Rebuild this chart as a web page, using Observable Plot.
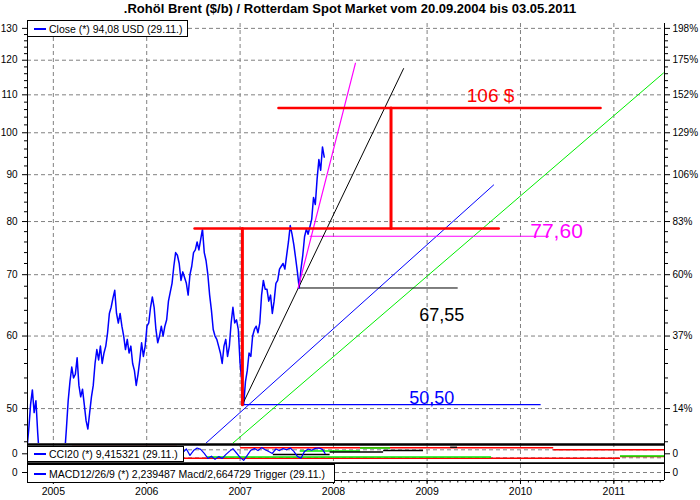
<!DOCTYPE html>
<html><head><meta charset="utf-8">
<script src="https://cdn.jsdelivr.net/npm/d3@7"></script>
<script src="https://cdn.jsdelivr.net/npm/@observablehq/plot@0.6"></script>
<style>
body{margin:0;background:#fff;}
#wrap{position:relative;width:700px;height:500px;overflow:hidden;font-family:"Liberation Sans",Arial,sans-serif;background:#fff;}
#wrap svg{position:absolute;left:0;}
.title{position:absolute;top:0;left:0;width:700px;text-align:center;font-weight:bold;font-size:13px;line-height:17px;z-index:5;}
.leg{position:absolute;left:27px;background:#fff;border:1.6px solid #000;box-sizing:border-box;font-size:10.5px;white-space:nowrap;z-index:5;}
.leg .sw{position:absolute;left:6px;top:50%;margin-top:-1px;width:12px;height:2px;background:#0000ff;}
.leg .t{position:absolute;left:21px;top:50%;transform:translateY(-50%);line-height:12px;color:#000;}
</style></head>
<body>
<div id="wrap">
  <div class="title" id="title"></div>
  <div class="leg" id="legClose" style="top:20px;width:161px;height:17px"><div class="sw"></div><div class="t"></div></div>
  <div class="leg" id="legCCI" style="top:446px;width:157px;height:16px"><div class="sw"></div><div class="t"></div></div>
  <div class="leg" id="legMACD" style="top:464px;width:308px;height:19px"><div class="sw"></div><div class="t"></div></div>
</div>
<script>
// ---------- texts ----------
const titleText = ".Rohöl Brent ($/b) / Rotterdam Spot Market vom 20.09.2004 bis 03.05.2011";
const legendTexts = ["Close (*) 94,08 USD (29.11.)", "CCI20 (*) 9,415321 (29.11.)", "MACD12/26/9 (*) 2,239487 Macd/2,664729 Trigger (29.11.)"];

// ---------- axes ----------
const yearTicks = ["2005-01-01","2006-01-01","2007-01-01","2008-01-01","2009-01-01","2010-01-01","2011-01-01"];
const leftTicks = [50, 60, 70, 80, 90, 100, 110, 120, 130];
const rightLabels = ["14%", "37%", "60%", "83%", "106%", "129%", "152%", "175%", "198%"];
const xStart = "2004-09-22", xEnd = "2011-07-18";
const priceDomain = [45.8, 131.6];
const cciDomain = [-267.5, 257.5];
const cciGridLevels = [-100, 100];
const macdDomain = [-4, 4];

// ---------- close price (USD) ----------
const closeData = [
["2004-09-20",45.2],["2004-09-27",47.5],["2004-10-04",50.5],["2004-10-11",52.4],["2004-10-18",49.5],["2004-10-25",51.0],["2004-11-01",47.0],["2004-11-08",44.0],["2004-11-15",42.5],["2004-11-22",44.5],["2004-11-29",41.0],["2004-12-06",39.0],["2004-12-13",40.5],["2004-12-20",39.5],["2004-12-27",40.0],
["2005-01-03",41.5],["2005-01-10",43.5],["2005-01-17",45.0],["2005-01-24",44.0],["2005-01-31",43.0],["2005-02-07",42.5],["2005-02-14",44.5],["2005-02-21",47.5],["2005-02-28",51.0],["2005-03-07",53.5],["2005-03-14",55.5],["2005-03-21",54.0],["2005-03-28",54.5],["2005-04-04",56.8],["2005-04-11",53.0],["2005-04-18",51.5],["2005-04-25",52.5],["2005-05-02",50.5],["2005-05-09",48.5],["2005-05-16",47.5],["2005-05-23",49.5],["2005-05-30",51.5],["2005-06-06",53.0],["2005-06-13",56.0],["2005-06-20",58.0],["2005-06-27",56.5],["2005-07-04",58.5],["2005-07-11",56.0],["2005-07-18",57.5],["2005-07-25",58.5],["2005-08-01",60.5],["2005-08-08",63.5],["2005-08-15",64.5],["2005-08-22",66.0],["2005-08-29",67.3],["2005-09-05",63.5],["2005-09-12",62.0],["2005-09-19",63.5],["2005-09-26",61.5],["2005-10-03",60.0],["2005-10-10",58.0],["2005-10-17",59.5],["2005-10-24",57.5],["2005-10-31",58.5],["2005-11-07",56.0],["2005-11-14",55.0],["2005-11-21",53.0],["2005-11-28",54.5],["2005-12-05",56.5],["2005-12-12",59.0],["2005-12-19",57.0],["2005-12-26",58.5],
["2006-01-02",61.5],["2006-01-09",62.0],["2006-01-16",64.5],["2006-01-23",66.2],["2006-01-30",64.5],["2006-02-06",61.0],["2006-02-13",59.0],["2006-02-20",60.0],["2006-02-27",61.5],["2006-03-06",60.0],["2006-03-13",61.5],["2006-03-20",62.5],["2006-03-27",65.5],["2006-04-03",67.0],["2006-04-10",68.5],["2006-04-17",71.5],["2006-04-24",74.0],["2006-05-01",73.5],["2006-05-08",72.0],["2006-05-15",69.0],["2006-05-22",70.5],["2006-05-29",69.5],["2006-06-05",68.5],["2006-06-12",66.5],["2006-06-19",70.0],["2006-06-26",71.5],["2006-07-03",74.0],["2006-07-10",74.5],["2006-07-17",76.0],["2006-07-24",74.5],["2006-07-31",76.5],["2006-08-07",78.5],["2006-08-14",74.0],["2006-08-21",72.5],["2006-08-28",70.0],["2006-09-04",66.5],["2006-09-11",64.0],["2006-09-18",61.0],["2006-09-25",60.0],["2006-10-02",59.5],["2006-10-09",58.5],["2006-10-16",57.5],["2006-10-23",56.0],["2006-10-30",58.5],["2006-11-06",59.5],["2006-11-13",57.0],["2006-11-20",58.5],["2006-11-27",62.0],["2006-12-04",64.5],["2006-12-11",62.0],["2006-12-18",62.5],["2006-12-25",61.0],
["2007-01-01",56.0],["2007-01-08",53.5],["2007-01-15",50.5],["2007-01-22",53.5],["2007-01-29",55.0],["2007-02-05",57.5],["2007-02-12",57.0],["2007-02-19",60.0],["2007-02-26",61.0],["2007-03-05",61.5],["2007-03-12",60.5],["2007-03-19",62.0],["2007-03-26",66.5],["2007-04-02",69.0],["2007-04-09",67.5],["2007-04-16",67.5],["2007-04-23",65.5],["2007-04-30",66.5],["2007-05-07",63.5],["2007-05-14",65.5],["2007-05-21",68.5],["2007-05-28",69.0],["2007-06-04",71.0],["2007-06-11",71.5],["2007-06-18",72.0],["2007-06-25",71.0],["2007-07-02",73.5],["2007-07-09",76.0],["2007-07-16",79.2],["2007-07-23",77.5],["2007-07-30",75.5],["2007-08-06",73.0],["2007-08-13",70.5],["2007-08-20",67.7],["2007-08-27",71.0],["2007-09-03",73.5],["2007-09-10",77.0],["2007-09-17",78.5],["2007-09-24",77.5],["2007-10-01",79.0],["2007-10-08",80.5],["2007-10-15",85.0],["2007-10-22",83.5],["2007-10-29",89.0],["2007-11-05",93.5],["2007-11-12",91.0],["2007-11-19",96.5],["2007-11-26",94.08]
];

// ---------- drawn analysis lines (date, price) ----------
const redLevelLow  = [["2006-07-07",78.6],["2009-10-08",78.6]];
const redDrop      = [["2007-01-10",78.6],["2007-01-10",50.5]];
const redLevelHigh = [["2007-05-31",106.4],["2010-11-10",106.4]];
const redTarget    = [["2008-08-13",106.4],["2008-08-13",78.6]];
const magentaTrend = [["2007-08-16",67.7],["2008-03-27",119.1]];
const magentaLevel = [["2007-10-02",77.1],["2010-04-20",77.1]];
const blackTrend   = [["2007-01-10",50.5],["2008-10-01",117.5]];
const blackLevel   = [["2007-08-16",67.7],["2009-04-29",67.7]];
const blueLevel    = [["2007-01-10",50.5],["2010-03-19",50.5]];
const blueTrend    = [["2006-08-19",45.8],["2009-09-18",87.7]];
const greenTrend   = [["2006-12-02",45.8],["2011-07-14",116.2]];

const annotationLabels = [
  {date:"2009-09-06", value:109.6, text:"106 $"},
  {date:"2010-05-22", value:78.0, text:"77,60"},
  {date:"2009-02-27", value:63.2, text:"67,55"},
  {date:"2009-01-19", value:51.3, text:"50,50"}
];

// ---------- CCI20 ----------
const cciData = [
["2006-05-22",30],["2006-06-05",120],["2006-06-19",-40],["2006-07-03",80],["2006-07-17",145],["2006-07-31",110],["2006-08-14",10],["2006-08-28",-115],["2006-09-11",-60],["2006-09-25",-140],["2006-10-09",-70],["2006-10-23",-115],["2006-11-06",-20],["2006-11-20",60],["2006-12-04",130],["2006-12-18",20],
["2007-01-01",-90],["2007-01-15",-165],["2007-01-29",-40],["2007-02-12",90],["2007-02-26",130],["2007-03-12",80],["2007-03-26",155],["2007-04-09",100],["2007-04-23",60],["2007-05-07",10],["2007-05-21",120],["2007-06-04",80],["2007-06-18",130],["2007-07-02",100],["2007-07-16",145],["2007-07-30",60],["2007-08-13",-65],["2007-08-27",-110],["2007-09-10",60],["2007-09-24",120],["2007-10-08",90],["2007-10-22",135],["2007-11-05",145],["2007-11-19",110],["2007-11-29",9]
];
// horizontal step levels in the CCI panel: [from, to, level]
const cciRedLevels = [["2005-03-17","2006-05-01",182],["2007-01-03","2010-05-11",150],["2010-05-11","2011-07-18",100],["2004-09-22","2011-01-27",-110],["2011-01-27","2011-07-18",-67]];
const cciGreenLevels = [["2006-08-27","2009-09-10",-80],["2011-01-27","2011-07-18",-55],["2007-08-24","2008-04-16",70],["2008-04-16","2008-08-11",145]];
const cciBlackLevels = [["2007-05-11","2007-12-19",-17],["2007-12-19","2008-07-15",45],["2008-07-15","2008-12-18",82],["2009-04-03","2009-04-30",165]];

// ---------- build ----------
const parse = d3.utcParse("%Y-%m-%d");
const xDomain = [parse(xStart), parse(xEnd)];
const years = yearTicks.map(parse);
const months = d3.utcMonth.range(xDomain[0], xDomain[1]);
const pts = arr => arr.map(([d, v]) => ({date: parse(d), value: v}));
const lvls = arr => arr.map(([a, b, v]) => ({start: parse(a), end: parse(b), value: v}));
const leftMinor = d3.range(46, 131, 2).filter(v => v % 10 !== 0);

const FONT = "Liberation Sans, Arial, sans-serif";
const baseStyle = {fontFamily: FONT, fontSize: "10px", background: "white", color: "black", overflow: "hidden"};
const grid = {stroke: "#808080", strokeOpacity: 1, strokeDasharray: "4,3", strokeWidth: 1};
const margins = {marginLeft: 27, marginRight: 36};

const lineMark = (arr, stroke, w) => Plot.line(pts(arr), {x: "date", y: "value", stroke, strokeWidth: w, clip: true});
const labelColors = ["#ff0000", "#ff00ff", "#000000", "#0000ff"];
const labelSizes = [19, 21, 18, 18];

const main = Plot.plot({
  width: 700, height: 443, marginTop: 23, marginBottom: 0, ...margins,
  style: baseStyle,
  x: {type: "utc", domain: xDomain, axis: null},
  y: {type: "log", domain: priceDomain, axis: null},
  marks: [
    Plot.gridX(years, grid),
    Plot.gridY(leftTicks, grid),
    lineMark(greenTrend, "#00ee00", 1),
    lineMark(blueTrend, "#0000ff", 1),
    lineMark(blueLevel, "#0000ff", 1.2),
    lineMark(blackLevel, "#000000", 1),
    lineMark(magentaLevel, "#ff00ff", 1.2),
    Plot.line(pts(closeData), {x: "date", y: "value", stroke: "#0000ff", strokeWidth: 1.5, clip: true}),
    lineMark(blackTrend, "#000000", 1),
    lineMark(magentaTrend, "#ff00ff", 1.2),
    lineMark(redLevelLow, "#ff0000", 2.5),
    lineMark(redDrop, "#ff0000", 3),
    lineMark(redLevelHigh, "#ff0000", 2.5),
    lineMark(redTarget, "#ff0000", 3),
    ...annotationLabels.map((l, i) => Plot.text([l], {x: d => parse(d.date), y: "value", text: "text", fill: labelColors[i], fontSize: labelSizes[i], fontFamily: FONT})),
    Plot.ruleX(xDomain, {stroke: "black"}),
    Plot.axisY(leftTicks, {anchor: "left", tickSize: 5, tickPadding: 5, tickFormat: d => String(d), label: null, fontSize: 10}),
    Plot.axisY(leftMinor, {anchor: "left", tickSize: 3, tickFormat: () => "", label: null}),
    Plot.axisY(leftTicks, {anchor: "right", tickSize: 5, tickPadding: 3, tickFormat: d => rightLabels[leftTicks.indexOf(d)], label: null, fontSize: 10}),
    Plot.axisY(leftMinor, {anchor: "right", tickSize: 3, tickFormat: () => "", label: null})
  ]
});
main.style.top = "0px";

const cci = Plot.plot({
  width: 700, height: 21, marginTop: 0, marginBottom: 0, ...margins,
  style: baseStyle,
  x: {type: "utc", domain: xDomain, axis: null},
  y: {domain: cciDomain, axis: null},
  marks: [
    Plot.gridX(years, grid),
    Plot.gridY(cciGridLevels, grid),
    Plot.ruleY(lvls(cciRedLevels), {y: "value", x1: "start", x2: "end", stroke: "#ff0000", strokeWidth: 1.5}),
    Plot.ruleY(lvls(cciGreenLevels), {y: "value", x1: "start", x2: "end", stroke: "#00ee00", strokeWidth: 1.5}),
    Plot.ruleY(lvls(cciBlackLevels), {y: "value", x1: "start", x2: "end", stroke: "#000000", strokeWidth: 1.3}),
    Plot.line(pts(cciData), {x: "date", y: "value", stroke: "#0000ff", strokeWidth: 1.2}),
    Plot.ruleY([cciDomain[1]], {dy: 1, stroke: "black", strokeWidth: 2.6}),
    Plot.ruleY([cciDomain[0]], {dy: -1, stroke: "black", strokeWidth: 2.6}),
    Plot.ruleX(xDomain, {stroke: "black"}),
    Plot.axisY([0], {anchor: "left", tickSize: 5, tickPadding: 5, tickFormat: d => String(d), label: null, fontSize: 10}),
    Plot.axisY([0], {anchor: "right", tickSize: 5, tickPadding: 3, tickFormat: d => String(d), label: null, fontSize: 10})
  ]
});
cci.style.top = "443px";

const macd = Plot.plot({
  width: 700, height: 36, marginTop: 0, marginBottom: 20, ...margins,
  style: baseStyle,
  x: {type: "utc", domain: xDomain, axis: null},
  y: {domain: macdDomain, axis: null},
  marks: [
    Plot.gridX(years, grid),
    Plot.gridY([0], grid),
    Plot.ruleX(xDomain, {stroke: "black"}),
    Plot.ruleY([macdDomain[0]], {stroke: "black"}),
    Plot.axisY([0], {anchor: "left", tickSize: 5, tickPadding: 5, tickFormat: d => String(d), label: null, fontSize: 10}),
    Plot.axisY([0], {anchor: "right", tickSize: 5, tickPadding: 3, tickFormat: d => String(d), label: null, fontSize: 10}),
    Plot.axisX(years, {anchor: "bottom", tickSize: 4, tickPadding: 3, tickFormat: d3.utcFormat("%Y"), label: null, fontSize: 10.5}),
    Plot.axisX(months, {anchor: "bottom", tickSize: 2.5, tickFormat: () => "", label: null})
  ]
});
macd.style.top = "464px";

const wrap = document.getElementById("wrap");
wrap.prepend(macd);
wrap.prepend(cci);
wrap.prepend(main);

document.getElementById("title").textContent = titleText;
["legClose", "legCCI", "legMACD"].forEach((id, i) => {
  document.querySelector("#" + id + " .t").textContent = legendTexts[i];
});
</script>
</body></html>
